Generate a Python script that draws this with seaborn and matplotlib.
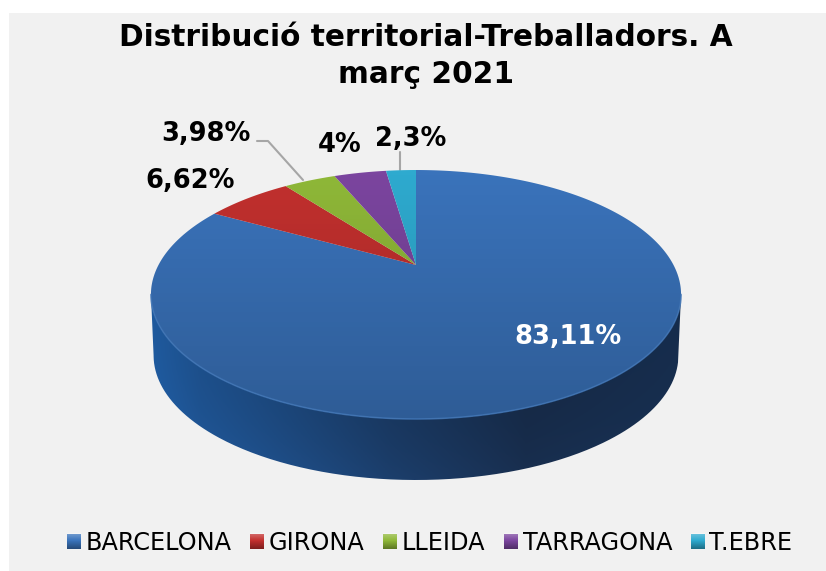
import matplotlib
matplotlib.use("Agg")
import matplotlib.pyplot as plt
import numpy as np
import seaborn as sns
from matplotlib.patches import PathPatch, Rectangle
from matplotlib.path import Path
from matplotlib.transforms import Transform

# data
territories = ["BARCELONA", "GIRONA", "LLEIDA", "TARRAGONA", "T.EBRE"]
shares = [83.11, 6.62, 3.98, 4.0, 2.3]
share_labels = ["83,11%", "6,62%", "3,98%", "4%", "2,3%"]
title = "Distribució territorial-Treballadors. A\nmarç 2021"

# style
palette = sns.color_palette(["#3a73bb", "#c2302e", "#8fb838", "#7b459f", "#2eaacf"])
sns.set_theme(style="white")
plt.rcParams["font.family"] = ["DejaVu Sans"]
back = "#f1f1f1"

W, H = 826, 571
CX, CY = 416, 265      # pie apex in pixels
K, A, B = 0.237, 117.5, 257.5
DEPTH = 61


class Tilt(Transform):
    # perspective view of the unit circle, result in pixels
    input_dims = 2
    output_dims = 2
    has_inverse = False

    def transform_non_affine(self, values):
        v = np.asarray(values, dtype=float)
        d = 1 + K * v[:, 1]
        return np.column_stack([CX + B * v[:, 0] / d, CY - A * v[:, 1] / d])

    def transform_path_non_affine(self, path):
        pts = [bez(np.linspace(0, 1, 25)) for bez, code in path.iter_bezier()
               if code != Path.MOVETO]
        return Path(self.transform_non_affine(np.vstack(pts)), closed=False)


fig = plt.figure(figsize=(W / 100, H / 100), dpi=100, facecolor="white")
ax = fig.add_axes([0, 0, 1, 1])
wedges, _ = ax.pie(shares, colors=palette, startangle=90, counterclock=False, radius=1)
ax.set_aspect("auto")
ax.axis("on")
for s in ax.spines.values():
    s.set_visible(False)
ax.set_xticks([])
ax.set_yticks([])
ax.set_facecolor("white")
ax.add_patch(Rectangle((9, 13), W - 9, H - 13, fc=back, ec="none", zorder=0))

tilt = Tilt()
for w in wedges:
    w.set_transform(tilt + ax.transData)
    w.set_edgecolor("none")
    w.set_zorder(3)

# outline of the top face and the wall under its front edge
t = np.linspace(0, 2 * np.pi, 400)
rim = tilt.transform_non_affine(np.column_stack([np.cos(t), np.sin(t)]))
t_front = np.linspace(np.pi + 0.239, 2 * np.pi - 0.239, 300)
front = tilt.transform_non_affine(np.column_stack([np.cos(t_front), np.sin(t_front)]))
base = front + [0, DEPTH]
base[:, 0] = CX + (base[:, 0] - CX) * 0.99
wall_poly = np.vstack([front, base[::-1]])
wall_clip = PathPatch(Path(wall_poly, closed=False), transform=ax.transData, fc="none", ec="none")
ax.add_patch(wall_clip)

# wall shading, dark towards the right, a bit lighter at the foot
gx = np.interp(np.linspace(0, 1, 300), [0, 0.1, 0.45, 0.7, 1], [0, 0.25, 0.75, 1, 0.9])
gy = np.linspace(0, 1, 120)
c0, c1 = np.array([0x1f, 0x5b, 0xa0]) / 255, np.array([0x15, 0x28, 0x44]) / 255
wall_img = c0[None, None, :] * (1 - gx[None, :, None]) + c1[None, None, :] * gx[None, :, None]
wall_img = wall_img * (1 + 0.22 * gy[:, None, None] ** 3)
im = ax.imshow(np.clip(wall_img, 0, 1), extent=(145, 690, 490, 290), aspect="auto", zorder=2)
im.set_clip_path(wall_clip)

# top face shading
top_clip = PathPatch(Path(rim, closed=True), transform=ax.transData, fc="none", ec="none")
ax.add_patch(top_clip)
shade = np.zeros((200, 1, 4))
shade[:, 0, 3] = np.linspace(0.0, 0.2, 200)
im2 = ax.imshow(shade, extent=(145, 690, 420, 170), aspect="auto", zorder=4)
im2.set_clip_path(top_clip)

# light rim along the front edge
ax.plot(front[:, 0], front[:, 1], color="#3f74b5", lw=1.2, alpha=0.8, zorder=5)

# title and labels
ax.text(426, 56, title, ha="center", va="center", fontsize=21.3, fontweight="bold",
        color="black", linespacing=1.32, zorder=6)
label_xy = [(568, 337), (190, 181), (206, 134), (340, 145), (411, 139)]
for (x, y), lab, col in zip(label_xy, share_labels, ["white"] + ["black"] * 4):
    ax.text(x, y, lab, ha="center", va="center", fontsize=18.5, fontweight="bold", color=col, zorder=6)

# leader lines
ax.plot([257, 268, 303], [141, 141, 180], color="#a6a6a6", lw=1.5, zorder=2)
ax.plot([400, 400], [152, 170], color="#a6a6a6", lw=1.5, zorder=2)

ax.set_xlim(0, W)
ax.set_ylim(H, 0)

# legend
leg = ax.legend(wedges, territories, loc="lower left", bbox_to_anchor=(67 / W, 16 / H),
                ncol=5, frameon=False, fontsize=17.3, handlelength=0.58, handleheight=0.62,
                handletextpad=0.2, columnspacing=0.77, borderpad=0, borderaxespad=0)
for txt in leg.get_texts():
    txt.set_color("black")

# bevel on the legend keys
fig.canvas.draw()
bevel = np.zeros((20, 1, 4))
bevel[:10, 0, :3] = 1
bevel[:, 0, 3] = np.abs(np.linspace(0.3, -0.35, 20))
for h in leg.legend_handles:
    bb = h.get_window_extent()
    ax.imshow(bevel, extent=(bb.x0, bb.x1, H - bb.y0, H - bb.y1), aspect="auto", zorder=7)
ax.set_xlim(0, W)
ax.set_ylim(H, 0)

fig.savefig("out.png", dpi=100, facecolor="white")
